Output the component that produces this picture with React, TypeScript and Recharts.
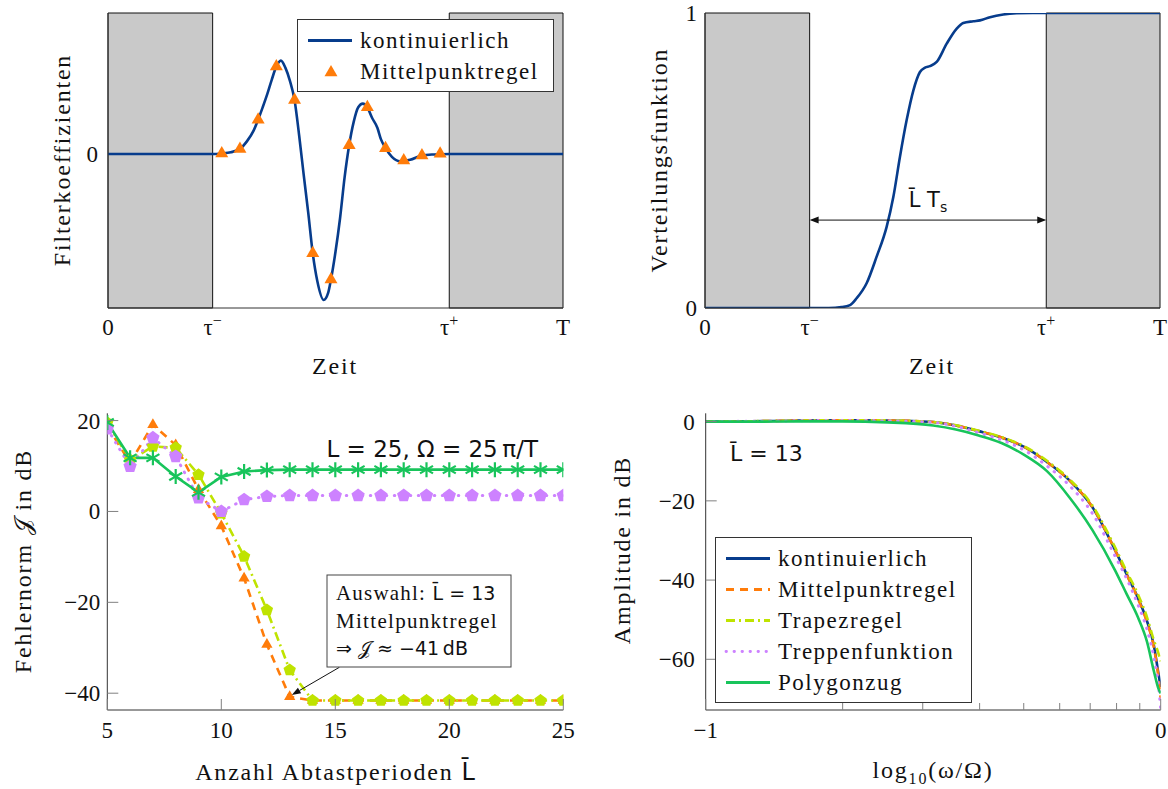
import React from "react";
import {
  ComposedChart,
  Line,
  XAxis,
  YAxis,
  ReferenceArea,
  ReferenceLine,
  Legend,
} from "recharts";

const serif = "'Liberation Serif', serif";
const sans = "'DejaVu Sans', sans-serif";

const blue = "#073c8c";
const orange = "#ff7c0a";
const lime = "#bfe300";
const violet = "#cd82ff";
const green = "#18c45b";
const shade = "#c9c9c9";
const frame = "#333";
const tickGray = "#808080";

// oben links: Filterkoeffizienten ueber der Zeit (Einheit: Abtastperioden)
const tauMinus = 5.75;
const tauPlus = 18.75;
const tEnd = 25;

const filterTime = [0, 5.75, 6.25, 6.75, 7.25, 7.65, 8.0, 8.25, 8.5, 8.75, 9.0, 9.25, 9.5, 9.75, 10.0, 10.25, 10.5, 10.75, 11.0, 11.25, 11.5, 11.85, 12.1, 12.25, 12.5, 12.75, 13.0, 13.25, 13.5, 13.75, 14.0, 14.25, 14.5, 14.8, 15.0, 15.25, 15.6, 16.05, 16.6, 17.25, 17.9, 18.75, 25];
const filterCont = [0, 0, 0.004, 0.012, 0.035, 0.09, 0.16, 0.235, 0.32, 0.41, 0.51, 0.6, 0.64, 0.59, 0.5, 0.37, 0.13, -0.14, -0.4, -0.68, -0.87, -1.0, -0.95, -0.86, -0.67, -0.44, -0.16, 0.06, 0.22, 0.32, 0.345, 0.32, 0.25, 0.18, 0.1, 0.04, -0.02, -0.05, -0.04, -0.01, -0.003, 0, 0];

const midTime = [6.25, 7.25, 8.25, 9.25, 10.25, 11.25, 12.25, 13.25, 14.25, 15.25, 16.25, 17.25, 18.25];
const midCoeff = [0.004, 0.035, 0.235, 0.6, 0.37, -0.68, -0.86, 0.06, 0.32, 0.04, -0.045, -0.01, 0.002];

// oben rechts: Verteilungsfunktion
const cdfTime = [0, 6.8, 7.5, 7.97, 8.33, 8.88, 9.43, 9.98, 10.35, 10.71, 11.08, 11.45, 11.81, 12.09, 12.36, 12.73, 13.28, 13.83, 14.19, 14.74, 15.11, 15.66, 16.39, 17.12, 18.0, 25];
const cdfValue = [0, 0, 0.003, 0.01, 0.033, 0.084, 0.174, 0.275, 0.377, 0.512, 0.637, 0.738, 0.8, 0.815, 0.82, 0.834, 0.896, 0.947, 0.966, 0.972, 0.975, 0.986, 0.995, 0.999, 1, 1];

// unten links: Fehlernorm ueber L-quer
const lbar = [5, 6, 7, 8, 9, 10, 11, 12, 13, 14, 15, 16, 17, 18, 19, 20, 21, 22, 23, 24, 25];
const errMittel = [18.8, 10.7, 19.1, 14.6, 4.8, -3.2, -14.7, -29.3, -40.8, -41.6, -41.6, -41.6, -41.6, -41.6, -41.6, -41.6, -41.6, -41.6, -41.6, -41.6, -41.6];
const errTrapez = [19.5, 11.3, 14.3, 14.0, 8.1, -0.4, -9.9, -21.7, -34.9, -41.6, -41.6, -41.6, -41.6, -41.6, -41.6, -41.6, -41.6, -41.6, -41.6, -41.6, -41.6];
const errTreppe = [18.2, 9.9, 16.2, 12.1, 3.0, 0.0, 2.6, 3.3, 3.5, 3.5, 3.5, 3.5, 3.5, 3.5, 3.5, 3.5, 3.5, 3.5, 3.5, 3.5, 3.5];
const errPolygon = [19.6, 11.8, 11.8, 7.7, 4.2, 7.6, 8.8, 9.1, 9.2, 9.2, 9.2, 9.2, 9.2, 9.2, 9.2, 9.2, 9.2, 9.2, 9.2, 9.2, 9.2];

// unten rechts: Amplitudengang, x = log10(omega/Omega)
const logFreq = [-1, -0.9, -0.8, -0.7, -0.6, -0.5, -0.45, -0.4, -0.35, -0.3, -0.25, -0.2, -0.15, -0.1, -0.075, -0.05, -0.03, -0.015, -0.005, 0];
const ampKont = [0, 0.1, 0.25, 0.35, 0.3, -0.1, -1.0, -2.4, -4.0, -6.4, -10.2, -14.9, -21.6, -32.5, -38.5, -44.5, -50.4, -56.5, -63.6, -67];
const ampMittel = [0, 0.1, 0.25, 0.35, 0.3, -0.1, -1.0, -2.4, -4.0, -6.4, -10.2, -14.9, -21.6, -32.5, -38.6, -44.7, -50.7, -57.0, -64.5, -70];
const ampTrapez = [0, 0.1, 0.25, 0.35, 0.3, -0.1, -0.9, -2.3, -3.9, -6.2, -9.9, -14.6, -21.2, -31.8, -37.8, -43.6, -49.4, -55.2, -58.5, -60.5];
const ampTreppe = [0, 0.1, 0.2, 0.3, 0.2, -0.2, -1.2, -2.8, -4.6, -7.2, -11.2, -16.2, -23.2, -34.0, -39.6, -46.2, -52.5, -59.5, -66.5, -72.5];
const ampPolygon = [0, 0, 0.05, 0.05, -0.2, -1.0, -2.0, -3.5, -5.4, -8.4, -12.5, -19.2, -27.4, -37.6, -43.5, -49.4, -55.6, -63.0, -67.4, -68.6];
const logMinor = [-0.699, -0.523, -0.398, -0.301, -0.222, -0.155, -0.097, -0.046];

const filterCurve = filterTime.map((x, i) => ({ x, y: filterCont[i] }));
const midPoints = midTime.map((x, i) => ({ x, y: midCoeff[i] }));
const cdfCurve = cdfTime.map((x, i) => ({ x, y: cdfValue[i] }));
const errRows = lbar.map((x, i) => ({
  x,
  mittel: errMittel[i],
  trapez: errTrapez[i],
  treppe: errTreppe[i],
  polygon: errPolygon[i],
}));
const ampRows = logFreq.map((x, i) => ({
  x,
  kont: ampKont[i],
  mittel: ampMittel[i],
  trapez: ampTrapez[i],
  treppe: ampTreppe[i],
  polygon: ampPolygon[i],
}));

const fmt = (v: number) => (v < 0 ? "\u2212" + Math.abs(v) : String(v));

// --- Marker
const triPoints = (cx: number, cy: number, r: number) =>
  `${cx},${cy - r} ${cx - r * 0.866},${cy + r / 2} ${cx + r * 0.866},${cy + r / 2}`;

const pentPoints = (cx: number, cy: number, r: number) =>
  [0, 1, 2, 3, 4]
    .map((k) => {
      const a = (-90 + k * 72) * (Math.PI / 180);
      return `${cx + r * Math.cos(a)},${cy + r * Math.sin(a)}`;
    })
    .join(" ");

const triangleDot = (r: number, color: string) => (p: any) =>
  <polygon key={p.index} points={triPoints(p.cx, p.cy, r)} fill={color} />;

const pentagonDot = (r: number, color: string) => (p: any) =>
  <polygon key={p.index} points={pentPoints(p.cx, p.cy, r)} fill={color} />;

const asteriskDot = (r: number, color: string) => (p: any) => (
  <g key={p.index} stroke={color} strokeWidth={2.2}>
    {[90, 30, 150].map((deg) => {
      const a = (deg * Math.PI) / 180;
      return (
        <line
          key={deg}
          x1={p.cx - r * Math.cos(a)}
          y1={p.cy - r * Math.sin(a)}
          x2={p.cx + r * Math.cos(a)}
          y2={p.cy + r * Math.sin(a)}
        />
      );
    })}
  </g>
);

// --- Achsen-Ticks (nach innen gezeichnet wie bei pgfplots)
type TickSpec = {
  side: "bottom" | "top" | "left" | "right";
  len?: (v: number) => number;
  text?: (v: number) => React.ReactNode;
  gap?: number;
};

const axisTick = (spec: TickSpec) => (props: any) => {
  const { x, y, payload } = props;
  const v = payload.value;
  const len = spec.len ? spec.len(v) : 0;
  const label = spec.text ? spec.text(v) : null;
  const gap = spec.gap ?? 0;
  let x2 = x;
  let y2 = y;
  if (spec.side === "bottom") y2 = y - len;
  if (spec.side === "top") y2 = y + len;
  if (spec.side === "left") x2 = x + len;
  if (spec.side === "right") x2 = x - len;
  return (
    <g>
      {len > 0 && <line x1={x} y1={y} x2={x2} y2={y2} stroke={tickGray} strokeWidth={1} />}
      {label != null && spec.side === "left" && (
        <text x={x - gap} y={y} dy="0.35em" textAnchor="end" fontFamily={serif} fontSize={23} fill="#111">
          {label}
        </text>
      )}
      {label != null && spec.side === "bottom" && (
        <text x={x} y={y + gap} textAnchor="middle" fontFamily={serif} fontSize={23} fill="#111">
          {label}
        </text>
      )}
    </g>
  );
};

const timeLabel = (v: number) => {
  if (v === 0) return "0";
  if (v === tEnd) return "T";
  return (
    <>
      {"\u03C4"}
      <tspan fontSize={16} dy={-9}>
        {v === tauMinus ? "\u2212" : "+"}
      </tspan>
    </>
  );
};

// --- Pfeile
const spanArrow = (p: any) => {
  const { x1, y1, x2, y2 } = p;
  const h = 9;
  const w = 3.5;
  return (
    <g>
      <line x1={x1 + 2} y1={y1} x2={x2 - 2} y2={y2} stroke="#111" strokeWidth={1} />
      <polygon points={`${x1},${y1} ${x1 + h},${y1 - w} ${x1 + h},${y1 + w}`} fill="#111" />
      <polygon points={`${x2},${y2} ${x2 - h},${y2 - w} ${x2 - h},${y2 + w}`} fill="#111" />
      <text x={(x1 + x2) / 2} y={y1 - 13} textAnchor="middle" fontFamily={sans} fontSize={21} fill="#111">
        {"L\u0304 T"}
        <tspan fontSize={14} dy={5}>s</tspan>
      </text>
    </g>
  );
};

const pointerArrow = (p: any) => {
  const { x1, y1, x2, y2 } = p;
  const a = Math.atan2(y2 - y1, x2 - x1);
  const h = 9;
  const w = 3.2;
  const bx = x2 - h * Math.cos(a);
  const by = y2 - h * Math.sin(a);
  return (
    <g>
      <line x1={x1} y1={y1} x2={bx} y2={by} stroke="#111" strokeWidth={1} />
      <polygon
        points={`${x2},${y2} ${bx - w * Math.sin(a)},${by + w * Math.cos(a)} ${bx + w * Math.sin(a)},${by - w * Math.cos(a)}`}
        fill="#111"
      />
    </g>
  );
};

// --- Legende
type LegendItem = { name: string; color: string; dash?: string; cap?: "round" | "butt"; marker?: boolean };

const legendTop: LegendItem[] = [
  { name: "kontinuierlich", color: blue },
  { name: "Mittelpunktregel", color: orange, marker: true },
];

const legendBottom: LegendItem[] = [
  { name: "kontinuierlich", color: blue },
  { name: "Mittelpunktregel", color: orange, dash: "8 6" },
  { name: "Trapezregel", color: lime, dash: "9 4 2 4" },
  { name: "Treppenfunktion", color: violet, dash: "0.5 7.5", cap: "round" },
  { name: "Polygonzug", color: green },
];

function LegendBox({ items }: { items: LegendItem[] }) {
  return (
    <div
      style={{
        border: "1px solid #333",
        background: "#fff",
        padding: "5px 0 4px 0",
        fontFamily: serif,
        fontSize: 23,
        letterSpacing: 1.5,
        color: "#111",
      }}
    >
      {items.map((it) => (
        <div key={it.name} style={{ display: "flex", alignItems: "center", height: 31 }}>
          <svg width={62} height={31} style={{ flex: "none" }}>
            {it.marker ? (
              <polygon points={triPoints(33, 16.5, 7.5)} fill={it.color} />
            ) : (
              <line
                x1={10}
                x2={54}
                y1={15.5}
                y2={15.5}
                stroke={it.color}
                strokeWidth={2.8}
                strokeDasharray={it.dash}
                strokeLinecap={it.cap ?? "butt"}
              />
            )}
          </svg>
          <span style={{ lineHeight: "31px", whiteSpace: "nowrap" }}>{it.name}</span>
        </div>
      ))}
    </div>
  );
}

const noDot = { dot: false, activeDot: false, isAnimationActive: false } as const;

function FilterChart() {
  const yDom: [number, number] = [-1.055, 0.966];
  return (
    <ComposedChart width={584} height={395} margin={{ top: 13, right: 21, bottom: 0, left: 0 }}>
      <XAxis
        type="number"
        dataKey="x"
        domain={[0, tEnd]}
        ticks={[0, tauMinus, tauPlus, tEnd]}
        interval={0}
        allowDataOverflow
        height={87}
        tickSize={0}
        tickMargin={0}
        tickLine={false}
        axisLine={{ stroke: frame }}
        tick={axisTick({ side: "bottom", text: timeLabel, gap: 27 })}
      />
      <XAxis xAxisId="top" orientation="top" type="number" domain={[0, tEnd]} height={0} tick={false} tickLine={false} axisLine={{ stroke: frame }} />
      <YAxis
        type="number"
        domain={yDom}
        ticks={[0]}
        interval={0}
        allowDataOverflow
        width={108}
        tickSize={0}
        tickMargin={0}
        tickLine={false}
        axisLine={{ stroke: frame }}
        tick={axisTick({ side: "left", text: fmt, gap: 10 })}
      />
      <YAxis yAxisId="right" orientation="right" type="number" domain={yDom} width={0} tick={false} tickLine={false} axisLine={{ stroke: frame }} />
      <ReferenceArea x1={0} x2={tauMinus} fill={shade} fillOpacity={1} stroke="#111" strokeWidth={1} />
      <ReferenceArea x1={tauPlus} x2={tEnd} fill={shade} fillOpacity={1} stroke="#111" strokeWidth={1} />
      <Line data={filterCurve} dataKey="y" type="monotone" stroke={blue} strokeWidth={2.6} {...noDot} />
      <Line
        data={midPoints}
        dataKey="y"
        stroke="none"
        dot={triangleDot(7.5, orange)}
        activeDot={false}
        isAnimationActive={false}
      />
      <Legend
        layout="vertical"
        align="center"
        verticalAlign="middle"
        wrapperStyle={{ left: 297, top: 19, width: 257 }}
        content={() => <LegendBox items={legendTop} />}
      />
    </ComposedChart>
  );
}

function CdfChart() {
  const yDom: [number, number] = [0, 1];
  return (
    <ComposedChart width={584} height={395} margin={{ top: 13, right: 8, bottom: 0, left: 0 }}>
      <XAxis
        type="number"
        dataKey="x"
        domain={[0, tEnd]}
        ticks={[0, tauMinus, tauPlus, tEnd]}
        interval={0}
        allowDataOverflow
        height={87}
        tickSize={0}
        tickMargin={0}
        tickLine={false}
        axisLine={{ stroke: frame }}
        tick={axisTick({ side: "bottom", text: timeLabel, gap: 27 })}
      />
      <XAxis xAxisId="top" orientation="top" type="number" domain={[0, tEnd]} height={0} tick={false} tickLine={false} axisLine={{ stroke: frame }} />
      <YAxis
        type="number"
        domain={yDom}
        ticks={[0, 1]}
        interval={0}
        allowDataOverflow
        width={121}
        tickSize={0}
        tickMargin={0}
        tickLine={false}
        axisLine={{ stroke: frame }}
        tick={axisTick({ side: "left", text: fmt, gap: 8 })}
      />
      <YAxis yAxisId="right" orientation="right" type="number" domain={yDom} width={0} tick={false} tickLine={false} axisLine={{ stroke: frame }} />
      <ReferenceArea x1={0} x2={tauMinus} fill={shade} fillOpacity={1} stroke="#111" strokeWidth={1} />
      <ReferenceArea x1={tauPlus} x2={tEnd} fill={shade} fillOpacity={1} stroke="#111" strokeWidth={1} />
      <Line data={cdfCurve} dataKey="y" type="monotone" stroke={blue} strokeWidth={2.6} {...noDot} />
      <ReferenceLine
        segment={[
          { x: tauMinus, y: 0.298 },
          { x: tauPlus, y: 0.298 },
        ]}
        shape={spanArrow}
      />
    </ComposedChart>
  );
}

function ErrorChart() {
  const yDom: [number, number] = [-43.7, 21.6];
  const xTicks = [5, 10, 15, 20, 25];
  const yTicks = [20, 0, -20, -40];
  return (
    <ComposedChart width={584} height={389} data={errRows} margin={{ top: 13.3, right: 20.7, bottom: 0, left: 0 }}>
      <XAxis
        type="number"
        dataKey="x"
        domain={[5, 25]}
        ticks={xTicks}
        interval={0}
        allowDataOverflow
        height={79}
        tickSize={0}
        tickMargin={0}
        tickLine={false}
        axisLine={{ stroke: frame }}
        tick={axisTick({ side: "bottom", len: () => 11, text: fmt, gap: 28 })}
      />
      <XAxis
        xAxisId="top"
        orientation="top"
        type="number"
        domain={[5, 25]}
        ticks={xTicks}
        interval={0}
        height={0}
        tickSize={0}
        tickMargin={0}
        tickLine={false}
        axisLine={{ stroke: frame }}
        tick={axisTick({ side: "top", len: () => 11 })}
      />
      <YAxis
        type="number"
        domain={yDom}
        ticks={yTicks}
        interval={0}
        allowDataOverflow
        width={107.3}
        tickSize={0}
        tickMargin={0}
        tickLine={false}
        axisLine={{ stroke: frame }}
        tick={axisTick({ side: "left", len: () => 11, text: fmt, gap: 7 })}
      />
      <YAxis
        yAxisId="right"
        orientation="right"
        type="number"
        domain={yDom}
        ticks={yTicks}
        interval={0}
        width={0}
        tickSize={0}
        tickMargin={0}
        tickLine={false}
        axisLine={{ stroke: frame }}
        tick={axisTick({ side: "right", len: () => 11 })}
      />
      <Line dataKey="mittel" stroke={orange} strokeWidth={2.6} strokeDasharray="8 6" dot={triangleDot(6.5, orange)} activeDot={false} isAnimationActive={false} />
      <Line dataKey="trapez" stroke={lime} strokeWidth={2.6} strokeDasharray="9 4 2 4" dot={pentagonDot(6.5, lime)} activeDot={false} isAnimationActive={false} />
      <Line dataKey="treppe" stroke={violet} strokeWidth={3} strokeDasharray="0.5 7.5" strokeLinecap="round" dot={pentagonDot(7, violet)} activeDot={false} isAnimationActive={false} />
      <Line dataKey="polygon" stroke={green} strokeWidth={2.6} dot={asteriskDot(7.5, green)} activeDot={false} isAnimationActive={false} />
      <ReferenceLine
        segment={[
          { x: 15.18, y: -34.3 },
          { x: 13.09, y: -40.4 },
        ]}
        shape={pointerArrow}
      />
    </ComposedChart>
  );
}

function AmplitudeChart() {
  const yDom: [number, number] = [-72.8, 2.1];
  const xTicks = [-1, ...logMinor, 0];
  const yTicks = [0, -20, -40, -60];
  const xLen = (v: number) => (v === -1 || v === 0 ? 11 : 7);
  const xText = (v: number) => (v === -1 || v === 0 ? fmt(v) : null);
  return (
    <ComposedChart width={584} height={389} data={ampRows} margin={{ top: 13.3, right: 7.3, bottom: 0, left: 0 }}>
      <XAxis
        type="number"
        dataKey="x"
        domain={[-1, 0]}
        ticks={xTicks}
        interval={0}
        allowDataOverflow
        height={79}
        tickSize={0}
        tickMargin={0}
        tickLine={false}
        axisLine={{ stroke: frame }}
        tick={axisTick({ side: "bottom", len: xLen, text: xText, gap: 28 })}
      />
      <XAxis
        xAxisId="top"
        orientation="top"
        type="number"
        domain={[-1, 0]}
        ticks={xTicks}
        interval={0}
        height={0}
        tickSize={0}
        tickMargin={0}
        tickLine={false}
        axisLine={{ stroke: frame }}
        tick={axisTick({ side: "top", len: xLen })}
      />
      <YAxis
        type="number"
        domain={yDom}
        ticks={yTicks}
        interval={0}
        allowDataOverflow
        width={121.7}
        tickSize={0}
        tickMargin={0}
        tickLine={false}
        axisLine={{ stroke: frame }}
        tick={axisTick({ side: "left", len: () => 11, text: fmt, gap: 11 })}
      />
      <YAxis
        yAxisId="right"
        orientation="right"
        type="number"
        domain={yDom}
        ticks={yTicks}
        interval={0}
        width={0}
        tickSize={0}
        tickMargin={0}
        tickLine={false}
        axisLine={{ stroke: frame }}
        tick={axisTick({ side: "right", len: () => 11 })}
      />
      <Line dataKey="kont" type="monotone" stroke={blue} strokeWidth={2.6} {...noDot} />
      <Line dataKey="mittel" type="monotone" stroke={orange} strokeWidth={2.6} strokeDasharray="8 6" {...noDot} />
      <Line dataKey="trapez" type="monotone" stroke={lime} strokeWidth={2.6} strokeDasharray="9 4 2 4" {...noDot} />
      <Line dataKey="treppe" type="monotone" stroke={violet} strokeWidth={3} strokeDasharray="0.5 7.5" strokeLinecap="round" {...noDot} />
      <Line dataKey="polygon" type="monotone" stroke={green} strokeWidth={2.6} {...noDot} />
      <Legend
        layout="vertical"
        align="center"
        verticalAlign="middle"
        wrapperStyle={{ left: 131, top: 137, width: 257 }}
        content={() => <LegendBox items={legendBottom} />}
      />
    </ComposedChart>
  );
}

export default function App() {
  return (
    <div style={{ position: "absolute", left: 0, top: 0, width: 1168, height: 789, background: "#fff" }}>
      <div style={{ position: "absolute", left: 0, top: 0 }}>
        <FilterChart />
      </div>
      <div style={{ position: "absolute", left: 584, top: 0 }}>
        <CdfChart />
      </div>
      <div style={{ position: "absolute", left: 0, top: 400 }}>
        <ErrorChart />
      </div>
      <div style={{ position: "absolute", left: 584, top: 400 }}>
        <AmplitudeChart />
      </div>

      {/* Achsentitel und Beschriftungen */}
      <svg
        width={1168}
        height={789}
        style={{ position: "absolute", left: 0, top: 0, pointerEvents: "none" }}
        fontFamily={serif}
        fill="#111"
      >
        <g fontSize={24} letterSpacing={1.8}>
          <text transform="translate(70,160) rotate(-90)" textAnchor="middle">
            Filterkoeffizienten
          </text>
          <text x={335} y={374} textAnchor="middle">
            Zeit
          </text>
          <text transform="translate(667,160) rotate(-90)" textAnchor="middle">
            Verteilungsfunktion
          </text>
          <text x={932} y={374} textAnchor="middle">
            Zeit
          </text>
          <text transform="translate(31,561) rotate(-90)" textAnchor="middle">
            {"Fehlernorm "}
            <tspan fontFamily={sans} letterSpacing={0}>𝒥</tspan>
            {" in dB"}
          </text>
          <text x={335} y={780} textAnchor="middle">
            {"Anzahl Abtastperioden "}
            <tspan fontFamily={sans} letterSpacing={0}>{"L\u0304"}</tspan>
          </text>
          <text transform="translate(630,550) rotate(-90)" textAnchor="middle">
            Amplitude in dB
          </text>
          <text x={933} y={778} textAnchor="middle">
            log
            <tspan fontSize={16} dy={6}>
              10
            </tspan>
            <tspan dy={-6}>(ω/Ω)</tspan>
          </text>
        </g>

        <text x={538} y={457} textAnchor="end" fontSize={23} fontFamily={sans}>
          {"L = 25,  \u03A9 = 25\u2009\u03C0/T"}
        </text>
        <rect x={327} y={575} width={184} height={92} fill="#fff" stroke="#444" strokeWidth={1} />
        <text x={336} y={600} fontSize={21} letterSpacing={1.2}>
          {"Auswahl:  "}
          <tspan fontFamily={sans} fontSize={19} letterSpacing={0}>
            {"L\u0304 = 13"}
          </tspan>
        </text>
        <text x={336} y={628} fontSize={21} letterSpacing={1.3}>
          Mittelpunktregel
        </text>
        <text x={336} y={655} fontSize={19} fontFamily={sans}>
          {"\u21D2 𝒥 \u2248 \u221241\u2009dB"}
        </text>
        <text x={730} y={461} fontSize={22} fontFamily={sans}>
          {"L\u0304 = 13"}
        </text>
      </svg>
    </div>
  );
}
